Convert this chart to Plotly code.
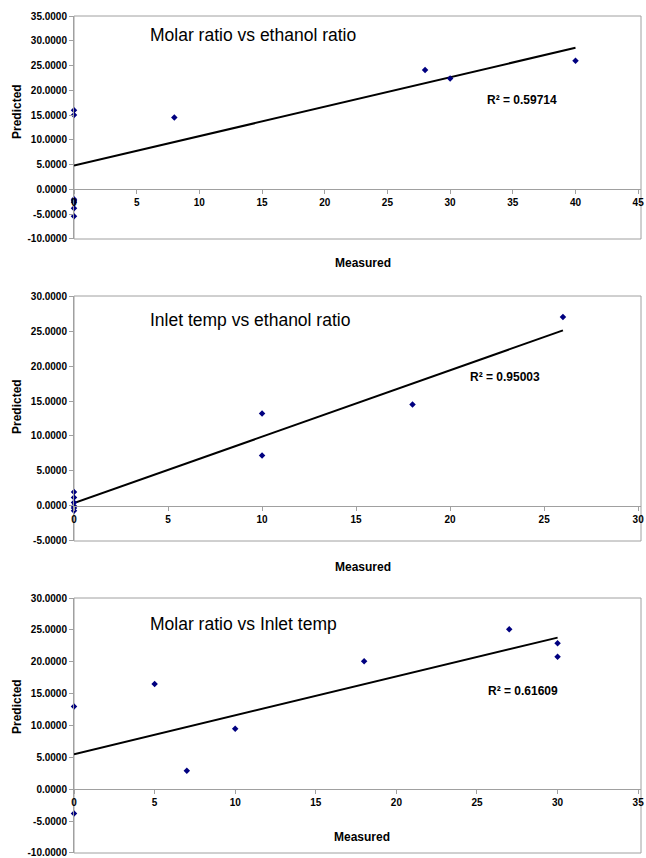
import plotly.graph_objects as go

# ---- data ----
titles = ["Molar ratio vs ethanol ratio", "Inlet temp vs ethanol ratio", "Molar ratio vs Inlet temp"]
r2_labels = ["R² = 0.59714", "R² = 0.95003", "R² = 0.61609"]

meas1 = [0, 0, 0, 0, 0, 0, 0, 8, 28, 30, 40]
pred1 = [16.0, 15.0, -2.0, -2.3, -2.6, -3.8, -5.4, 14.5, 24.1, 22.4, 26.0]
trend1_x = [0, 40]
trend1_y = [4.8, 28.6]

meas2 = [0, 0, 0, 0, 0, 0, 10, 10, 18, 26]
pred2 = [2.0, 1.2, 0.5, 0.0, -0.3, -0.7, 13.2, 7.2, 14.5, 27.0]
trend2_x = [0, 26]
trend2_y = [0.4, 25.1]

meas3 = [0, 0, 5, 7, 10, 18, 27, 30, 30]
pred3 = [13.0, -3.8, 16.5, 2.9, 9.5, 20.1, 25.1, 22.9, 20.8]
trend3_x = [0, 30]
trend3_y = [5.5, 23.8]

x_ranges = [[0, 45], [0, 30], [0, 35]]
y_ranges = [[-10, 35], [-5, 30], [-10, 30]]

# ---- layout geometry (page pixels) ----
W, H = 646, 858
PL, PR, PT, PB = 74, 641, 16, 853  # plot-region bounds on the page
ML, MR, MT, MB = PL, W - PR, PT, H - PB
PW, PH = W - ML - MR, H - MT - MB


def px(x):
    return (x - ML) / PW


def py(y):
    return (H - MB - y) / PH


plot_boxes = [(16, 239), (296, 541), (598, 853)]  # top, bottom page pixel
y_domains = [[py(b), py(t)] for t, b in plot_boxes]

fig = go.Figure()
series = [(meas1, pred1, trend1_x, trend1_y), (meas2, pred2, trend2_x, trend2_y),
          (meas3, pred3, trend3_x, trend3_y)]

GRAY = "#a0a0a0"
FONT = "Liberation Sans, Arial, sans-serif"
tickfont = dict(family=FONT, size=10, color="#000000", weight="bold")
EPS = 0.02
XPAD = 1.005  # tiny extra room so the last x tick label stays inside the page

for i, (mx, pr, tx, ty) in enumerate(series):
    sfx = "" if i == 0 else str(i + 1)
    fig.add_trace(go.Scatter(x=tx, y=ty, mode="lines", line=dict(color="#000000", width=2),
                             xaxis="x" + sfx, yaxis="y" + sfx, showlegend=False, hoverinfo="skip"))
    fig.add_trace(go.Scatter(x=mx, y=pr, mode="markers",
                             marker=dict(symbol="diamond", size=5, color="#000080"),
                             cliponaxis=False, xaxis="x" + sfx, yaxis="y" + sfx, showlegend=False))
    y0, y1 = y_domains[i]
    yr = y_ranges[i]
    xr = x_ranges[i]
    zero_pos = y0 + (0 - yr[0]) / (yr[1] - yr[0]) * (y1 - y0)
    yt = list(range(yr[0], yr[1] + 1, 5))
    xt = list(range(xr[0], xr[1] + 1, 5))
    fig.layout["xaxis" + sfx] = dict(
        domain=[0, 1], range=[xr[0], xr[1] * XPAD], anchor="free", position=zero_pos,
        tickvals=xt, ticktext=[str(v) for v in xt], ticklabeloverflow="allow", automargin=False,
        showgrid=False, zeroline=False, showline=True, linecolor=GRAY,
        linewidth=1, ticks="outside", ticklen=4, tickcolor=GRAY, tickfont=tickfont,
    )
    fig.layout["yaxis" + sfx] = dict(
        domain=[y0, y1], range=[yr[0] - EPS, yr[1] + EPS], anchor="x" + sfx, automargin=False,
        tickvals=yt, ticktext=[f"{v:.4f}" for v in yt], ticklabeloverflow="allow",
        showgrid=False, zeroline=False, showline=True, linecolor=GRAY,
        linewidth=1, ticks="outside", ticklen=4, tickcolor=GRAY, tickfont=tickfont,
    )
    fig.add_shape(type="rect", xref="x" + sfx + " domain", yref="y" + sfx + " domain",
                  x0=0, x1=1, y0=0, y1=1, line=dict(color=GRAY, width=1), layer="below")

# ---- text annotations (page pixel positions) ----
title_pos = [(148, 35), (148, 320), (148, 624)]
r2_pos = [(522, 100), (505, 377), (523, 691)]
meas_pos = [(363, 263), (363, 567), (362, 837)]
pred_pos = [(17, 112), (17, 407), (17, 707)]
annots = []
for i in range(3):
    annots.append(dict(text=titles[i], x=px(title_pos[i][0]), y=py(title_pos[i][1]),
                       xref="paper", yref="paper", xanchor="left", yanchor="middle", showarrow=False,
                       font=dict(family=FONT, size=17.5, color="#000000")))
    annots.append(dict(text="<b>" + r2_labels[i] + "</b>", x=px(r2_pos[i][0]), y=py(r2_pos[i][1]),
                       xref="paper", yref="paper", xanchor="center", yanchor="middle", showarrow=False,
                       font=dict(family=FONT, size=12, color="#000000")))
    annots.append(dict(text="<b>Measured</b>", x=px(meas_pos[i][0]), y=py(meas_pos[i][1]),
                       xref="paper", yref="paper", xanchor="center", yanchor="middle", showarrow=False,
                       font=dict(family=FONT, size=12, color="#000000")))
    annots.append(dict(text="<b>Predicted</b>", x=px(pred_pos[i][0]), y=py(pred_pos[i][1]),
                       xref="paper", yref="paper", xanchor="center", yanchor="middle", showarrow=False,
                       textangle=-90, font=dict(family=FONT, size=12, color="#000000")))

fig.update_layout(
    width=W, height=H, margin=dict(l=ML, r=MR, t=MT, b=MB, autoexpand=False),
    paper_bgcolor="#ffffff", plot_bgcolor="#ffffff",
    annotations=annots, showlegend=False,
    font=dict(family=FONT),
)

fig.write_html(
    "out.html",
    config={"displayModeBar": False},
    post_script="document.body.style.margin='0';document.body.style.overflow='hidden';",
)
